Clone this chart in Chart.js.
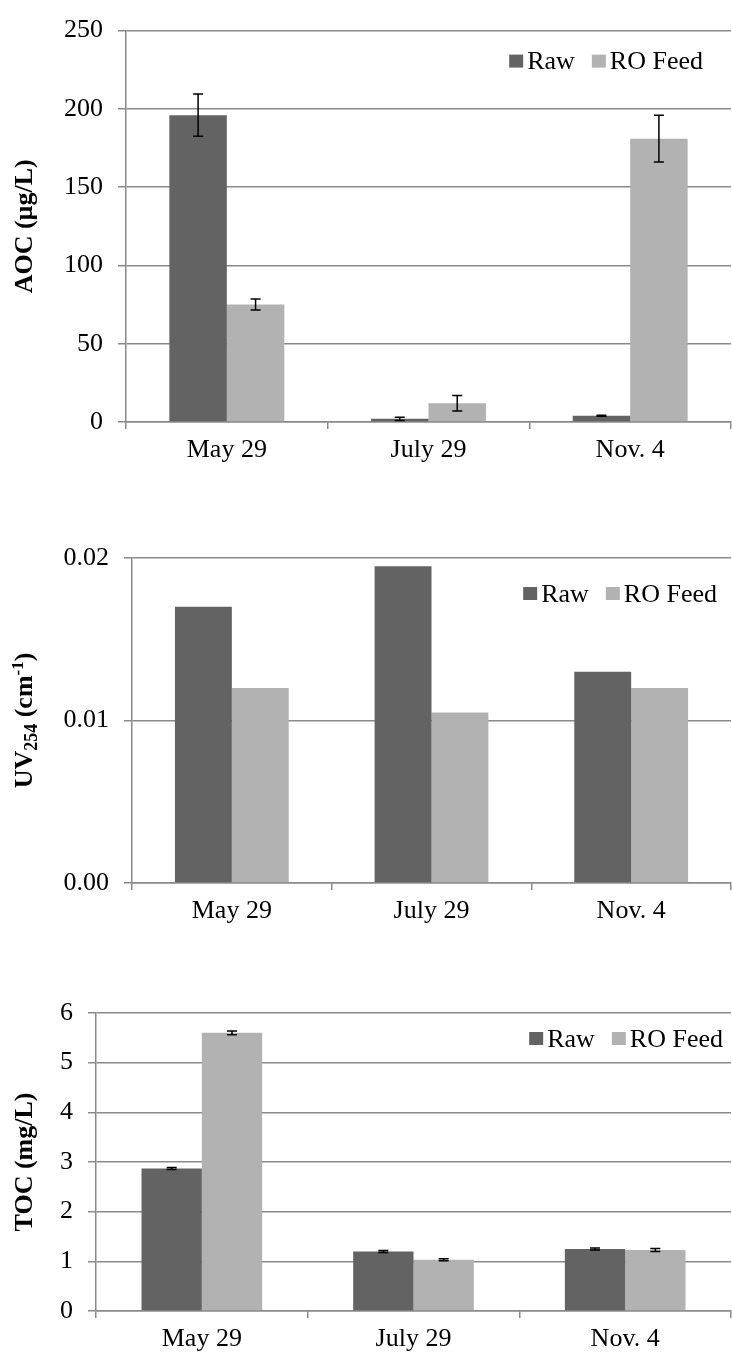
<!DOCTYPE html>
<html>
<head>
<meta charset="utf-8">
<script src="https://cdn.jsdelivr.net/npm/chart.js@4/dist/chart.umd.min.js"></script>
<style>
  body { margin: 0; background: #fff; }
  .panel { position: absolute; left: 0; width: 732px; }
</style>
</head>
<body>
<div class="panel" style="top:0;height:480px"><canvas id="chart-aoc"></canvas></div>
<div class="panel" style="top:480px;height:450px"><canvas id="chart-uv"></canvas></div>
<div class="panel" style="top:930px;height:426px"><canvas id="chart-toc"></canvas></div>
<script>
var dates = ['May 29', 'July 29', 'Nov. 4']
var seriesNames = ['Raw', 'RO Feed']
var seriesColors = ['#636363', '#b2b2b2']

// AOC, µg/L (mean and std. dev.)
var aocRaw = [196, 2, 4]
var aocRawErr = [13.5, 1, 0.3]
var aocFeed = [75, 12, 181]
var aocFeedErr = [3.5, 5, 15]

// UV254, 1/cm
var uvRaw = [0.017, 0.0195, 0.013]
var uvFeed = [0.012, 0.0105, 0.012]

// TOC, mg/L
var tocRaw = [2.87, 1.2, 1.25]
var tocRawErr = [0.02, 0.02, 0.02]
var tocFeed = [5.6, 1.03, 1.23]
var tocFeedErr = [0.04, 0.02, 0.03]

var FONT = '"Liberation Serif", "Times New Roman", serif'
var GRID = '#8a8a8a'
var tickFont = { size: 26, family: FONT }

// whiskers from dataset.errors, drawn on top of the bars
var errorBars = {
  id: 'errorBars',
  afterDatasetsDraw(chart) {
    var ctx = chart.ctx
    var y = chart.scales.y
    ctx.save()
    ctx.strokeStyle = '#000'
    ctx.lineWidth = 1.5
    chart.data.datasets.forEach((ds, i) => {
      if (!ds.errors) return
      chart.getDatasetMeta(i).data.forEach((bar, j) => {
        var top = y.getPixelForValue(ds.data[j] + ds.errors[j])
        var bot = y.getPixelForValue(ds.data[j] - ds.errors[j])
        ctx.beginPath()
        ctx.moveTo(bar.x, top)
        ctx.lineTo(bar.x, bot)
        ctx.moveTo(bar.x - 5, top)
        ctx.lineTo(bar.x + 5, top)
        ctx.moveTo(bar.x - 5, bot)
        ctx.lineTo(bar.x + 5, bot)
        ctx.stroke()
      })
    })
    ctx.restore()
  }
}

// legend sitting inside the plot, top right
function boxLegend(right, top) {
  return {
    id: 'boxLegend',
    afterDraw(chart) {
      var ctx = chart.ctx
      var area = chart.chartArea
      ctx.save()
      ctx.font = '26px ' + FONT
      ctx.textBaseline = 'middle'
      var items = chart.data.datasets.map(ds => ({
        label: ds.label, color: ds.backgroundColor, w: ctx.measureText(ds.label).width
      }))
      var total = items.reduce((s, it) => s + 18 + it.w, 0) + 17 * (items.length - 1)
      var x = area.right - right - total
      var y = area.top + top
      items.forEach(it => {
        ctx.fillStyle = it.color
        ctx.fillRect(x, y - 7, 14, 13)
        x += 18
        ctx.fillStyle = '#000'
        ctx.fillText(it.label, x, y + 1)
        x += it.w + 17
      })
      ctx.restore()
    }
  }
}

// rotated y title; pieces may be sub/superscripts
function yTitle(parts) {
  return {
    id: 'yTitle',
    afterDraw(chart) {
      var ctx = chart.ctx
      var area = chart.chartArea
      ctx.save()
      ctx.translate(32, (area.top + area.bottom) / 2)
      ctx.rotate(-Math.PI / 2)
      ctx.fillStyle = '#000'
      ctx.textBaseline = 'alphabetic'
      var widths = parts.map(p => {
        ctx.font = 'bold ' + p.size + 'px ' + FONT
        return ctx.measureText(p.text).width
      })
      var x = -widths.reduce((s, w) => s + w, 0) / 2
      parts.forEach((p, i) => {
        ctx.font = 'bold ' + p.size + 'px ' + FONT
        ctx.fillText(p.text, x, p.shift || 0)
        x += widths[i]
      })
      ctx.restore()
    }
  }
}

function makeChart(id, raw, feed, rawErr, feedErr, cfg) {
  var ctx = document.getElementById(id).getContext('2d')
  return new Chart(ctx, {
    type: 'bar',
    data: {
      labels: dates,
      datasets: [
        { label: seriesNames[0], data: raw, errors: rawErr, backgroundColor: seriesColors[0] },
        { label: seriesNames[1], data: feed, errors: feedErr, backgroundColor: seriesColors[1] },
      ],
    },
    options: {
      responsive: true,
      maintainAspectRatio: false,
      animation: false,
      categoryPercentage: 0.57,
      barPercentage: 1.0,
      layout: { padding: { top: cfg.top, right: 1, bottom: 0, left: 0 } },
      plugins: {
        legend: { display: false },
        tooltip: { enabled: false },
      },
      scales: {
        x: {
          grid: { display: true, drawOnChartArea: false, offset: true, tickLength: 7, color: GRID, lineWidth: 1.5 },
          border: { color: GRID, width: 1.5 },
          ticks: { color: '#000', font: tickFont, padding: 6, maxRotation: 0 },
          afterFit(scale) { scale.height = cfg.xHeight },
        },
        y: {
          min: 0,
          max: cfg.max,
          grid: { color: GRID, lineWidth: 1.5, tickLength: 8 },
          border: { color: GRID, width: 1.5 },
          ticks: { stepSize: cfg.step, color: '#000', font: tickFont, padding: 15, callback: cfg.fmt },
          afterFit(scale) { scale.width = cfg.yWidth },
        },
      },
    },
    plugins: [errorBars, boxLegend(cfg.legend[0], cfg.legend[1]), yTitle(cfg.title)],
  })
}

var ChartAOC = makeChart('chart-aoc', aocRaw, aocFeed, aocRawErr, aocFeedErr, {
  top: 26, xHeight: 58, yWidth: 126, max: 250, step: 50,
  fmt: v => v,
  legend: [28, 31],
  title: [{ text: 'AOC (\u00b5g/L)', size: 26 }],
})

var ChartUV = makeChart('chart-uv', uvRaw, uvFeed, null, null, {
  top: 78, xHeight: 47, yWidth: 132, max: 0.02, step: 0.01,
  fmt: v => v.toFixed(2),
  legend: [14, 36],
  title: [
    { text: 'UV', size: 26 },
    { text: '254', size: 18, shift: 5 },
    { text: ' (cm', size: 26 },
    { text: '-1', size: 17, shift: -9 },
    { text: ')', size: 26 },
  ],
})

var ChartTOC = makeChart('chart-toc', tocRaw, tocFeed, tocRawErr, tocFeedErr, {
  top: 83, xHeight: 45, yWidth: 96, max: 6, step: 1,
  fmt: v => v,
  legend: [8, 26],
  title: [{ text: 'TOC (mg/L)', size: 26 }],
})
</script>
</body>
</html>
